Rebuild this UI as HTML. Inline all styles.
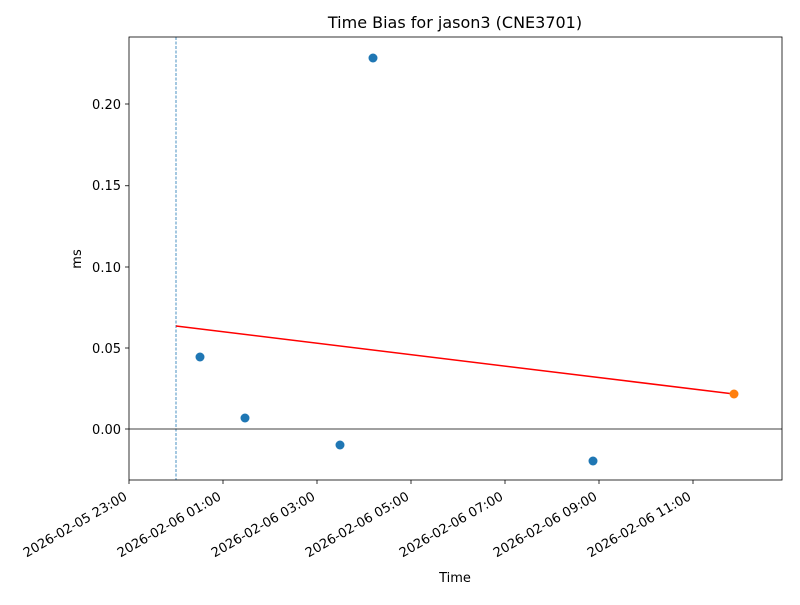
<!DOCTYPE html>
<html><head><meta charset="utf-8"><style>body{margin:0;background:#fff}</style></head><body>
<svg width="800" height="600" xmlns="http://www.w3.org/2000/svg" font-family="DejaVu Sans, sans-serif">
<rect width="800" height="600" fill="#fff"/>
<text x="455" y="28" font-size="16" text-anchor="middle">Time Bias for jason3 (CNE3701)</text>
<line x1="176" y1="37" x2="176" y2="480" stroke="#1f77b4" stroke-width="0.8" stroke-dasharray="3,1.5"/>
<line x1="129" y1="429" x2="782" y2="429" stroke="#000" stroke-width="0.8"/>
<line x1="176" y1="326" x2="734" y2="394" stroke="red" stroke-width="1.5"/>
<g fill="#1f77b4">
<circle cx="200" cy="357" r="4.5"/><circle cx="245" cy="418" r="4.5"/><circle cx="340" cy="445" r="4.5"/><circle cx="373" cy="58" r="4.5"/><circle cx="593" cy="461" r="4.5"/>
</g>
<circle cx="734" cy="394" r="4.5" fill="#ff7f0e"/>
<rect x="129" y="37" width="653" height="443" fill="none" stroke="#000" stroke-width="0.8"/>
<g stroke="#000" stroke-width="0.8">
<line x1="125" y1="104" x2="129" y2="104"/><line x1="125" y1="185.75" x2="129" y2="185.75"/><line x1="125" y1="267" x2="129" y2="267"/><line x1="125" y1="348" x2="129" y2="348"/><line x1="125" y1="429" x2="129" y2="429"/>
<line x1="129" y1="480" x2="129" y2="484"/><line x1="223" y1="480" x2="223" y2="484"/><line x1="317" y1="480" x2="317" y2="484"/><line x1="411" y1="480" x2="411" y2="484"/><line x1="505" y1="480" x2="505" y2="484"/><line x1="599" y1="480" x2="599" y2="484"/><line x1="693" y1="480" x2="693" y2="484"/>
</g>
<g font-size="13" text-anchor="end">
<text x="121" y="109">0.20</text><text x="121" y="190">0.15</text><text x="121" y="272">0.10</text><text x="121" y="353">0.05</text><text x="121" y="434">0.00</text>
</g>
<g font-size="13" text-anchor="end">
<text transform="translate(128,499) rotate(-30)">2026-02-05 23:00</text>
<text transform="translate(222,499) rotate(-30)">2026-02-06 01:00</text>
<text transform="translate(316,499) rotate(-30)">2026-02-06 03:00</text>
<text transform="translate(410,499) rotate(-30)">2026-02-06 05:00</text>
<text transform="translate(504,499) rotate(-30)">2026-02-06 07:00</text>
<text transform="translate(598,499) rotate(-30)">2026-02-06 09:00</text>
<text transform="translate(692,499) rotate(-30)">2026-02-06 11:00</text>
</g>
<text x="455" y="582" font-size="13" text-anchor="middle">Time</text>
<text transform="translate(81,259) rotate(-90)" font-size="13" text-anchor="middle">ms</text>
</svg>
</body></html>
